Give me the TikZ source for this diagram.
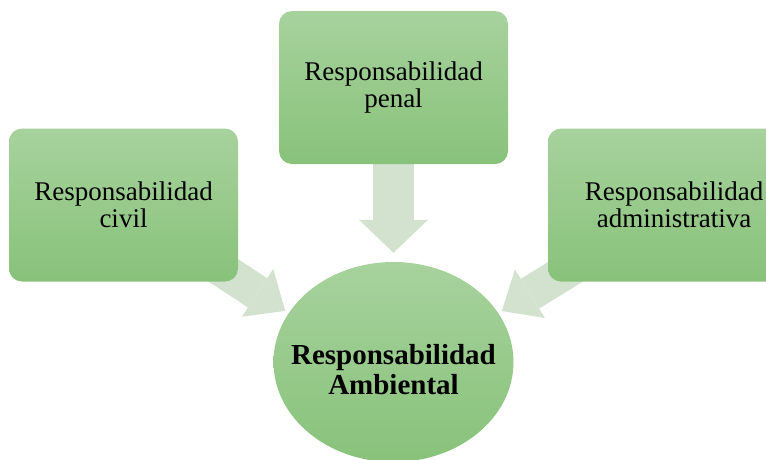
\documentclass[tikz,border=0pt]{standalone}
\usepackage{fontspec}
\setmainfont{Liberation Serif}
\usetikzlibrary{arrows.meta,shapes.geometric,backgrounds}
\definecolor{verdeclaro}{RGB}{167,210,157}
\definecolor{verdeoscuro}{RGB}{136,194,122}
\definecolor{flechaverde}{RGB}{210,226,206}
\tikzset{caja/.style={rectangle, rounded corners=13pt, top color=verdeclaro, bottom color=verdeoscuro, minimum width=229pt, minimum height=153pt, align=center, inner sep=0pt, font=\fontsize{27}{27}\selectfont}}
\tikzset{centro/.style={ellipse, top color=verdeclaro, bottom color=verdeoscuro, minimum width=240pt, minimum height=200pt, inner sep=0pt}}
\tikzset{centrotexto/.style={align=center, font=\bfseries\fontsize{29}{30}\selectfont}}
\tikzset{flecha/.style 2 args={draw=flechaverde, line width=#1, -{Triangle[length=33pt, width=#2, line width=0pt]}}}

\begin{document}
\begin{tikzpicture}[x=1pt,y=-1pt]
\useasboundingbox (0,0) rectangle (766,459);
\node[caja] (penal) at (393.5,87.5) {Responsabilidad\\penal};
\node[caja] (civil) at (123.5,205) {Responsabilidad\\civil};
\node[caja, minimum width=252pt] (admin) at (674,205) {Responsabilidad\\administrativa};
\node[centro, label={[centrotexto, yshift=-8pt]center:Responsabilidad\\Ambiental}] (amb) at (393.5,362) {};
\begin{scope}[on background layer]
\draw[flecha={41pt}{69pt}, shorten >=9pt] (penal) -- (amb);
\draw[flecha={35pt}{57pt}, shorten >=4pt] (civil.center) -- (amb.155);
\draw[flecha={35pt}{57pt}, shorten >=4pt] (admin.center) -- (amb.25);
\end{scope}
\end{tikzpicture}
\end{document}
